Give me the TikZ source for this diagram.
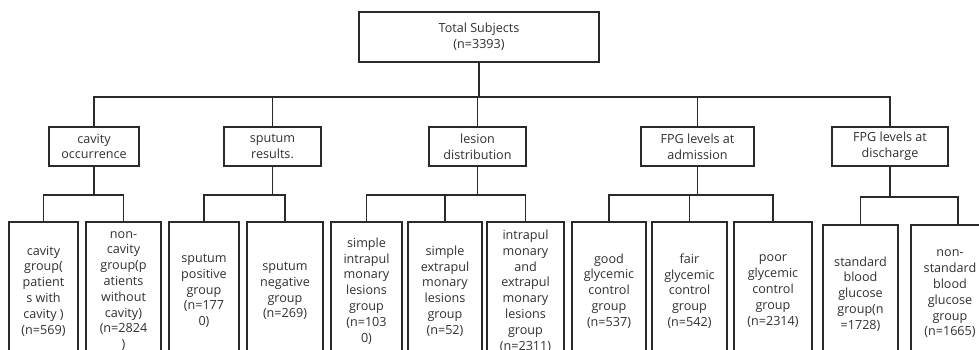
\documentclass[tikz,border=0pt]{standalone}
\usepackage{fontspec}
\setmainfont{Open Sans}
\definecolor{ln}{HTML}{2A2A2A}
\definecolor{tx}{HTML}{303030}
\tikzset{
  box/.style={draw=ln, line width=1.6pt, align=center, inner sep=0pt, text=tx,
    font=\fontsize{12.6}{15.8}\selectfont},
  wire/.style={draw=ln, line width=1.6pt},
}
\begin{document}
\begin{tikzpicture}[x=1pt,y=-1pt]
\useasboundingbox (0,0) rectangle (979,349);
\clip (0,0) rectangle (979,349);
% top
\node[box, minimum width=240pt, minimum height=50pt] (top) at (479,37) {Total Subjects\\(n=3393)};
% level 2
\node[box, minimum width=90pt, minimum height=39pt] (cav) at (94,146.5) {cavity\\occurrence};
\node[box, minimum width=97pt, minimum height=39pt] (spu) at (272.5,146.5) {sputum\\results.};
\node[box, minimum width=97pt, minimum height=39pt] (les) at (477.5,146.5) {lesion\\distribution};
\node[box, minimum width=113pt, minimum height=39pt] (adm) at (697.5,146.5) {FPG levels at\\admission};
\node[box, minimum width=116pt, minimum height=39pt] (dis) at (890,146.5) {FPG levels at\\discharge};
% level 3
\node[box, minimum width=69pt, minimum height=138pt] (cg) at (43.5,291) {cavity\\group(\\patient\\s with\\cavity )\\(n=569)};
\node[box, minimum width=75pt, minimum height=138pt] (ncg) at (123.5,291) {non-\\cavity\\group(p\\atients\\without\\cavity)\\(n=2824\\)};
\node[box, minimum width=70pt, minimum height=138pt] (sp) at (204,291) {sputum\\positive\\group\\(n=177\\0)};
\node[box, minimum width=76pt, minimum height=138pt] (sn) at (285,291) {sputum\\negative\\group\\(n=269)};
\node[box, minimum width=71pt, minimum height=138pt] (si) at (366.5,291) {simple\\intrapul\\monary\\lesions\\group\\(n=103\\0)};
\node[box, minimum width=74pt, minimum height=138pt] (se) at (445,291) {simple\\extrapul\\monary\\lesions\\group\\(n=52)};
\node[box, minimum width=77pt, minimum height=138pt] (ie) at (525.5,291) {intrapul\\monary\\and\\extrapul\\monary\\lesions\\group\\(n=2311)};
\node[box, minimum width=74pt, minimum height=138pt] (gg) at (609,291) {good\\glycemic\\control\\group\\(n=537)};
\node[box, minimum width=75pt, minimum height=138pt] (fg) at (689.5,291) {fair\\glycemic\\control\\group\\(n=542)};
\node[box, minimum width=78pt, minimum height=138pt] (pg) at (773,291) {poor\\glycemic\\control\\group\\(n=2314)};
\node[box, minimum width=75pt, minimum height=138pt] (st) at (860.5,294) {standard\\blood\\glucose\\group(n\\=1728)};
\node[box, minimum width=78pt, minimum height=138pt] (ns) at (950,294) {non-\\standard\\blood\\glucose\\group\\(n=1665)};
% buses
\coordinate (b0) at (0,97);
\coordinate (b1) at (0,195);
\coordinate (b2) at (0,197);
\coordinate (nsx) at (958,0);
\draw[wire] (top.south) -- (top.south |- b0);
\draw[wire] (cav.north) -- (cav.north |- b0) -- (dis.north |- b0) -- (dis.north);
\draw[wire] (spu.north) -- (spu.north |- b0);
\draw[wire] (les.north) -- (les.north |- b0);
\draw[wire] (adm.north) -- (adm.north |- b0);
% cavity
\draw[wire] (cav.south) -- (cav.south |- b1);
\draw[wire] (cg.north) -- (cg.north |- b1) -- (ncg.north |- b1) -- (ncg.north);
% sputum
\draw[wire] (spu.south) -- (spu.south |- b1);
\draw[wire] (sp.north) -- (sp.north |- b1) -- (sn.north |- b1) -- (sn.north);
% lesion
\draw[wire] (les.south) -- (les.south |- b1);
\draw[wire] (si.north) -- (si.north |- b1) -- (ie.north |- b1) -- (ie.north);
\draw[wire] (se.north) -- (se.north |- b1);
% admission
\draw[wire] (adm.south) -- (adm.south |- b1);
\draw[wire] (gg.north) -- (gg.north |- b1) -- (pg.north |- b1) -- (pg.north);
\draw[wire] (fg.north) -- (fg.north |- b1);
% discharge
\draw[wire] (dis.south) -- (dis.south |- b2);
\draw[wire] (st.north) -- (st.north |- b2) -- (nsx |- b2) -- (nsx |- ns.north);
\end{tikzpicture}
\end{document}
